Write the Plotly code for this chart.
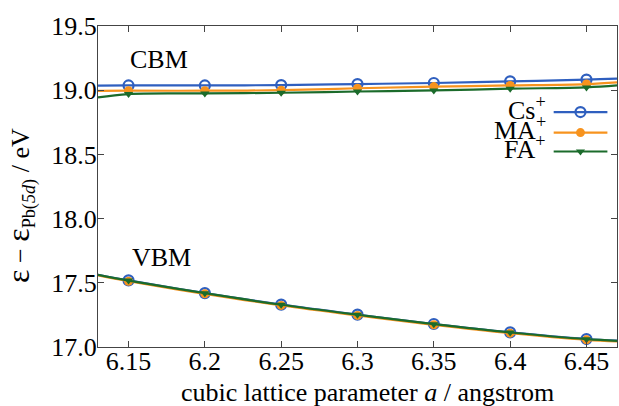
import plotly.graph_objects as go

# ---- data ----
lattice_a = [6.15, 6.20, 6.25, 6.30, 6.35, 6.40, 6.45]
cbm_cs = [19.037, 19.037, 19.040, 19.048, 19.056, 19.069, 19.082]
cbm_ma = [18.996, 18.996, 19.000, 19.015, 19.028, 19.037, 19.048]
cbm_fa = [18.970, 18.975, 18.980, 18.990, 18.998, 19.012, 19.022]
vbm_cs = [17.519, 17.420, 17.330, 17.252, 17.179, 17.114, 17.062]
vbm_ma = [17.512, 17.414, 17.324, 17.246, 17.173, 17.108, 17.056]
vbm_fa = [17.517, 17.419, 17.329, 17.251, 17.178, 17.113, 17.061]

# fitted curves drawn across the whole axis (edge values)
fit_a = [6.13] + lattice_a + [6.47]
cbm_cs_fit = [19.035] + cbm_cs + [19.090]
cbm_ma_fit = [18.994] + cbm_ma + [19.061]
cbm_fa_fit = [18.944] + cbm_fa + [19.037]
vbm_cs_fit = [17.563] + vbm_cs + [17.049]
vbm_ma_fit = [17.557] + vbm_ma + [17.043]
vbm_fa_fit = [17.562] + vbm_fa + [17.048]

x_ticks = [6.15, 6.20, 6.25, 6.30, 6.35, 6.40, 6.45]
x_ticktext = ["6.15", "6.2", "6.25", "6.3", "6.35", "6.4", "6.45"]
y_ticks = [17.0, 17.5, 18.0, 18.5, 19.0, 19.5]
y_ticktext = ["17.0", "17.5", "18.0", "18.5", "19.0", "19.5"]

series_names = ["Cs<sup>+</sup>", "MA<sup>+</sup>", "FA<sup>+</sup>"]
colors = ["#2f5fbf", "#f7931e", "#1b6b2b"]
FONT = "Liberation Serif"

styles = [
    dict(symbol="circle-open", size=10, line=dict(width=2.2)),
    dict(symbol="circle", size=9),
    dict(symbol="triangle-down", size=8),
]

fig = go.Figure()

cbm_fits = [cbm_cs_fit, cbm_ma_fit, cbm_fa_fit]
vbm_fits = [vbm_cs_fit, vbm_ma_fit, vbm_fa_fit]
cbm_pts = [cbm_cs, cbm_ma, cbm_fa]
vbm_pts = [vbm_cs, vbm_ma, vbm_fa]

for i in range(3):
    for fits, pts in ((cbm_fits, cbm_pts), (vbm_fits, vbm_pts)):
        fig.add_trace(go.Scatter(
            x=fit_a, y=fits[i], mode="lines",
            line=dict(color=colors[i], width=2.2, shape="spline"),
            showlegend=False, hoverinfo="skip"))
        m = dict(styles[i])
        m["color"] = colors[i]
        fig.add_trace(go.Scatter(
            x=lattice_a, y=pts[i], mode="markers",
            marker=m, showlegend=False))

# custom legend (text left, sample right) on an overlay axis
leg_y = [0.732, 0.668, 0.609]
for i in range(3):
    fig.add_trace(go.Scatter(
        x=[0.878, 0.9815], y=[leg_y[i], leg_y[i]], mode="lines",
        line=dict(color=colors[i], width=2.2),
        xaxis="x2", yaxis="y2", showlegend=False, hoverinfo="skip"))
    m = dict(styles[i])
    m["color"] = colors[i]
    fig.add_trace(go.Scatter(
        x=[0.9296], y=[leg_y[i]], mode="markers", marker=m,
        xaxis="x2", yaxis="y2", showlegend=False, hoverinfo="skip"))
    fig.add_annotation(
        x=0.868, y=leg_y[i], xref="x2", yref="y2", text=series_names[i],
        showarrow=False, xanchor="right", yanchor="middle", yshift=4,
        font=dict(family=FONT, size=26, color="black"))

axis_common = dict(
    showline=True, linecolor="#444", linewidth=1.2, mirror="ticks",
    ticks="inside", ticklen=6, tickcolor="#444", tickwidth=1.2,
    showgrid=False, zeroline=False, automargin=False,
    tickfont=dict(family=FONT, size=26, color="black"),
)

fig.update_layout(
    width=619, height=406,
    margin=dict(l=98, r=2, t=26, b=59),
    paper_bgcolor="white", plot_bgcolor="white",
    showlegend=False,
    xaxis=dict(range=[6.13, 6.47], tickvals=x_ticks, ticktext=x_ticktext,
               ticklabelstandoff=-9, **axis_common),
    yaxis=dict(range=[17.0, 19.5], tickvals=y_ticks, ticktext=y_ticktext,
               ticklabelstandoff=-5, **axis_common),
    xaxis2=dict(overlaying="x", range=[0, 1], visible=False, automargin=False),
    yaxis2=dict(overlaying="y", range=[0, 1], visible=False, automargin=False),
)

fig.add_annotation(x=0.058, y=0.895, xref="paper", yref="paper", text="CBM",
                   showarrow=False, xanchor="left", yanchor="middle",
                   font=dict(family=FONT, size=26, color="black"))
fig.add_annotation(x=0.062, y=0.28, xref="paper", yref="paper", text="VBM",
                   showarrow=False, xanchor="left", yanchor="middle",
                   font=dict(family=FONT, size=26, color="black"))

fig.add_annotation(x=0.52, y=-0.142, xref="paper", yref="paper",
                   text="cubic lattice parameter <i>a</i> / angstrom",
                   showarrow=False, xanchor="center", yanchor="middle",
                   font=dict(family=FONT, size=26, color="black"))
fig.add_annotation(x=-0.15, y=0.44, xref="paper", yref="paper",
                   text="<span style='font-size:32px'>ε</span> − <span style='font-size:32px'>ε</span><sub>Pb(<i>5d</i>)</sub> / eV",
                   textangle=-90, showarrow=False, xanchor="center", yanchor="middle",
                   font=dict(family=FONT, size=26, color="black"))

fig.write_html("out.html", config={"displayModeBar": False},
               post_script="document.body.style.margin='0';")
